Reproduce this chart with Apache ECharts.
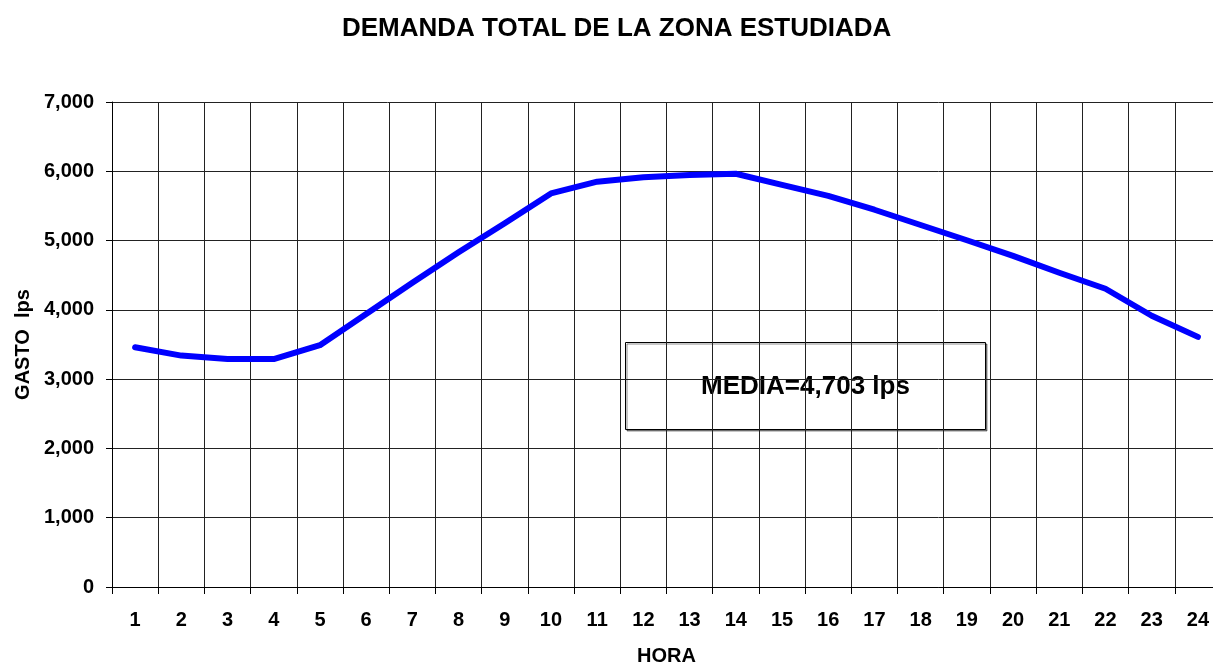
<!DOCTYPE html>
<html>
<head>
<meta charset="utf-8">
<title>Demanda total</title>
<script src="https://cdn.jsdelivr.net/npm/echarts@6/dist/echarts.min.js"></script>
<style>
  html, body { margin: 0; padding: 0; background: #fff; }
  #main { width: 1213px; height: 664px; }
</style>
</head>
<body>
<div id="main"></div>
<script>
// horas del dia
let horas = ['1','2','3','4','5','6','7','8','9','10','11','12','13','14','15','16','17','18','19','20','21','22','23','24'];
// gasto en lps
let gasto = [3460, 3340, 3290, 3290, 3490, 3940, 4390, 4830, 5250, 5680, 5850, 5915, 5945, 5965,
             5805, 5645, 5445, 5225, 5005, 4780, 4535, 4305, 3915, 3610];
let media = '4,703';

let fuente = 'Liberation Sans, Arial, sans-serif';
let myChart = echarts.init(document.getElementById('main'));

let option = {
    backgroundColor: '#fff',
    animation: false,
    title: {
        text: 'DEMANDA TOTAL DE LA ZONA ESTUDIADA',
        left: 337,
        top: 11,
        textStyle: { fontFamily: fuente, fontWeight: 'bold', fontSize: 26, color: '#000' }
    },
    grid: {
        left: 112,
        top: 102,
        right: -8,
        bottom: 77,
        containLabel: false,
        outerBoundsMode: 'none'
    },
    xAxis: {
        type: 'category',
        data: horas,
        boundaryGap: true,
        name: 'HORA',
        nameLocation: 'middle',
        nameGap: 59,
        nameTextStyle: { fontFamily: fuente, fontWeight: 'bold', fontSize: 20, color: '#000' },
        axisLine: { lineStyle: { color: '#000', width: 1 } },
        axisTick: { show: true, interval: 0, length: 7, lineStyle: { color: '#000' } },
        axisLabel: { interval: 0, margin: 23, fontFamily: fuente, fontWeight: 'bold', fontSize: 20, color: '#000' },
        splitLine: { show: true, interval: 0, lineStyle: { color: '#222', width: 1 } }
    },
    yAxis: {
        type: 'value',
        min: 0,
        max: 7000,
        interval: 1000,
        name: 'GASTO  lps',
        nameLocation: 'middle',
        nameGap: 75,
        nameRotate: 90,
        nameTextStyle: { fontFamily: fuente, fontWeight: 'bold', fontSize: 20, color: '#000' },
        axisLine: { show: true, lineStyle: { color: '#000', width: 1 } },
        axisTick: { show: true, length: 6, lineStyle: { color: '#000' } },
        axisLabel: {
            margin: 18,
            fontFamily: fuente, fontWeight: 'bold', fontSize: 20, color: '#000',
            formatter: function (v) { return v.toLocaleString('en-US'); }
        },
        splitLine: { show: true, lineStyle: { color: '#222', width: 1 } }
    },
    series: [{
        type: 'line',
        data: gasto,
        showSymbol: false,
        symbol: 'none',
        lineStyle: { color: '#0000ff', width: 6, cap: 'round', join: 'round' },
        z: 3
    }],
    graphic: [{
        type: 'group',
        left: 625,
        top: 342,
        z: 10,
        children: [{
            type: 'rect',
            shape: { x: 0, y: 0, width: 360, height: 87 },
            style: {
                fill: '#fff', stroke: '#000', lineWidth: 1,
                shadowColor: 'rgba(0,0,0,0.45)', shadowOffsetX: 1.5, shadowOffsetY: 1.5, shadowBlur: 0
            }
        }, {
            type: 'text',
            x: 180,
            y: 44,
            style: {
                text: 'MEDIA=' + media + ' lps',
                font: 'bold 26px ' + fuente,
                fill: '#000',
                align: 'center',
                verticalAlign: 'middle'
            }
        }]
    }]
};
myChart.setOption(option);
</script>
</body>
</html>
